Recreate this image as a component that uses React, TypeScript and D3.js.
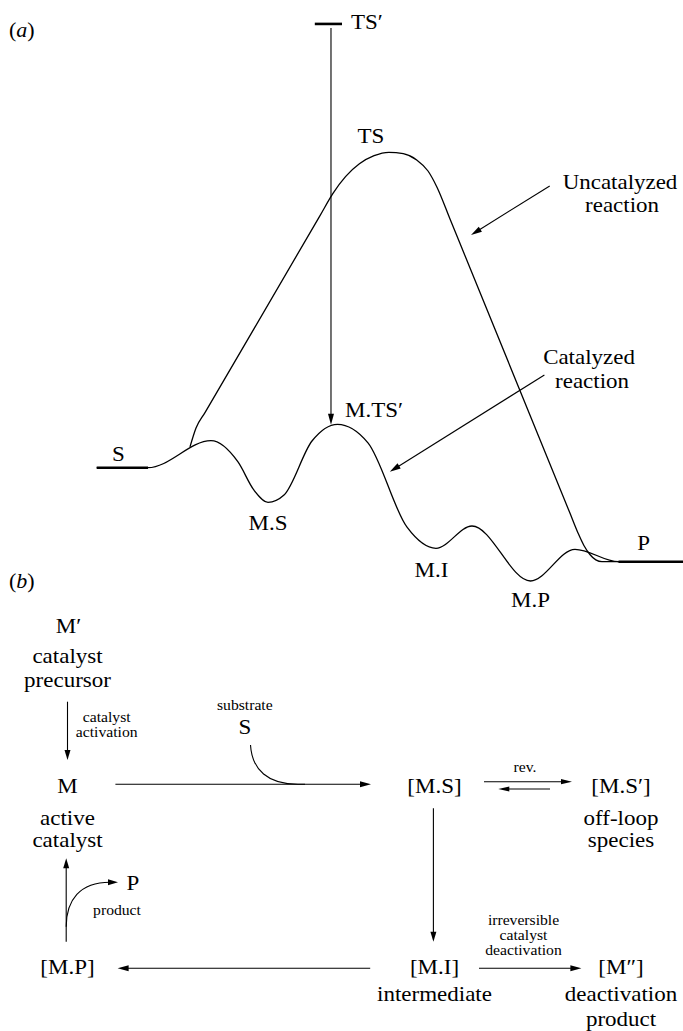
import React from "react";
import * as d3 from "d3";

const FONT = "'Liberation Serif','Times New Roman',Times,serif";

// ---------- Panel (a): reaction coordinate (0–100) vs relative energy (S = 0, TS = 100)
const catalyzedCoord = [0, 8.75, 19.49, 24.1, 26.83, 29.22, 31.95, 36.72, 41.07, 46.27, 52.93, 57.87, 64.01, 73.99, 81.58, 89.0, 100];
const catalyzedEnergy = [0, 0, 8.56, 1.81, -7.13, -10.97, -8.66, 8.47, 13.76, 7.89, -18.86, -25.55, -18.48, -35.92, -25.87, -29.8, -29.8];

const uncatalyzedCoord = [15.91, 16.94, 18.47, 38.09, 40.3, 42.44, 44.81, 47.31, 49.84, 52.29, 54.58, 56.51, 58.04, 60.26, 80.73, 82.09, 83.1, 84.12, 85.13, 86.18, 92.67];
const uncatalyzedEnergy = [6.59, 12.59, 17.47, 79.93, 87.0, 92.3, 96.35, 98.92, 100, 99.56, 97.59, 94.07, 88.94, 78.85, -14.46, -20.7, -24.67, -27.52, -29.23, -29.8, -29.8];

const levelNames = ["S", "P", "TS′"];
const levelStart = [0, 89.0, 37.2];
const levelEnd = [8.75, 100, 41.84];
const levelEnergy = [0, -29.8, 140.7];

const stateNames = ["TS", "M.TS′", "M.S", "M.I", "M.P"];
const stateCoord = [49.84, 41.07, 29.22, 57.87, 73.99];
const stateEnergy = [100, 13.76, -10.97, -25.55, -35.92];

const tsPrimeArrowCoord = 39.96;
const tsPrimeArrowFrom = 139.4;
const tsPrimeArrowTo = 13.6;

const annotationLines = [["Uncatalyzed", "reaction"], ["Catalyzed", "reaction"]];

// ---------- Panel (b): catalytic cycle
const speciesNames = ["M′", "M", "[M.S]", "[M.S′]", "[M.P]", "[M.I]", "[M″]"];
const speciesNotes = [
  ["catalyst", "precursor"],
  ["active", "catalyst"],
  [],
  ["off-loop", "species"],
  [],
  ["intermediate"],
  ["deactivation", "product"],
];
const stepNotes = [["catalyst", "activation"], ["substrate"], ["rev."], ["product"], ["irreversible", "catalyst", "deactivation"]];
const reagentNames = ["S", "P"];

// ---------- layout
const xS = d3.scaleLinear().domain([0, 100]).range([96.7, 683]);
const yS = d3.scaleLinear().domain([0, 100]).range([467.7, 152.3]);
const lineGen = d3
  .line<[number, number]>()
  .x((d) => xS(d[0]))
  .y((d) => yS(d[1]))
  .curve(d3.curveMonotoneX);

const SX = 1.15;

function T({ x, y, size = 20, anchor = "middle", sx = SX, children }: any) {
  return (
    <text
      transform={`translate(${x},${y}) scale(${sx},1)`}
      fontSize={size}
      textAnchor={anchor}
      fontFamily={FONT}
      fill="#000"
    >
      {children}
    </text>
  );
}

function Arrow({ x1, y1, x2, y2, len = 10, hw = 3, sw = 1.1 }: any) {
  const a = Math.atan2(y2 - y1, x2 - x1);
  const bx = x2 - len * Math.cos(a);
  const by = y2 - len * Math.sin(a);
  const px = -Math.sin(a) * hw;
  const py = Math.cos(a) * hw;
  return (
    <g>
      <line x1={x1} y1={y1} x2={bx + Math.cos(a) * 2} y2={by + Math.sin(a) * 2} stroke="#000" strokeWidth={sw} />
      <polygon points={`${x2},${y2} ${bx + px},${by + py} ${bx - px},${by - py}`} fill="#000" />
    </g>
  );
}

function Head({ x, y, angle, len = 10, hw = 3 }: any) {
  const bx = x - len * Math.cos(angle);
  const by = y - len * Math.sin(angle);
  const px = -Math.sin(angle) * hw;
  const py = Math.cos(angle) * hw;
  return <polygon points={`${x},${y} ${bx + px},${by + py} ${bx - px},${by - py}`} fill="#000" />;
}

export default function App() {
  const cat = catalyzedCoord.map((c, i) => [c, catalyzedEnergy[i]] as [number, number]);
  const unc = uncatalyzedCoord.map((c, i) => [c, uncatalyzedEnergy[i]] as [number, number]);

  const stateOffsets = [
    { dx: -18, dy: -9, anchor: "middle" },
    { dx: 7.5, dy: -7.6, anchor: "start" },
    { dx: 0, dy: 27.7, anchor: "middle" },
    { dx: -4.5, dy: 28.4, anchor: "middle" },
    { dx: 0, dy: 26.3, anchor: "middle" },
  ];

  // panel (b) positions
  const colX = [67.5, 434.5, 621];
  const rowY = [633, 793, 974];
  const noteFirst = [30, 32, 27];
  const noteStep = [24, 22, 24.5];
  const nodePos = [
    [0, 0],
    [0, 1],
    [1, 1],
    [2, 1],
    [0, 2],
    [1, 2],
    [2, 2],
  ];

  return (
    <svg
      width={683}
      height={1031}
      style={{ position: "absolute", left: 0, top: 0, background: "#fff" }}
    >
      {/* ---------------- Panel (a) ---------------- */}
      <T x={9} y={37} anchor="start" sx={1.1}>
        (<tspan fontStyle="italic">a</tspan>)
      </T>

      {levelNames.map((n, i) => (
        <line
          key={n}
          x1={xS(levelStart[i])}
          x2={xS(levelEnd[i])}
          y1={yS(levelEnergy[i])}
          y2={yS(levelEnergy[i])}
          stroke="#000"
          strokeWidth={2.6}
        />
      ))}
      <T x={(xS(levelStart[0]) + xS(levelEnd[0])) / 2 - 4} y={yS(levelEnergy[0]) - 7}>
        {levelNames[0]}
      </T>
      <T x={(xS(levelStart[1]) + xS(levelEnd[1])) / 2 - 7} y={yS(levelEnergy[1]) - 11.7}>
        {levelNames[1]}
      </T>
      <T x={xS(levelEnd[2]) + 9} y={yS(levelEnergy[2]) + 5.5} anchor="start">
        {levelNames[2]}
      </T>

      <path d={lineGen(unc) || ""} fill="none" stroke="#000" strokeWidth={1.3} />
      <path d={lineGen(cat) || ""} fill="none" stroke="#000" strokeWidth={1.3} />

      <Arrow
        x1={xS(tsPrimeArrowCoord)}
        y1={yS(tsPrimeArrowFrom)}
        x2={xS(tsPrimeArrowCoord)}
        y2={yS(tsPrimeArrowTo)}
        len={11}
        hw={3}
        sw={1.1}
      />

      {stateNames.map((n, i) => (
        <T
          key={n}
          x={xS(stateCoord[i]) + stateOffsets[i].dx}
          y={yS(stateEnergy[i]) + stateOffsets[i].dy}
          anchor={stateOffsets[i].anchor}
        >
          {n}
        </T>
      ))}

      <T x={620} y={189} size={20.5} sx={1.12}>
        {annotationLines[0][0]}
      </T>
      <T x={622} y={211.5} size={20.5} sx={1.12}>
        {annotationLines[0][1]}
      </T>
      <Arrow x1={549.7} y1={186} x2={471} y2={235} len={11} hw={3} />
      <T x={589} y={363.5} size={20.5} sx={1.12}>
        {annotationLines[1][0]}
      </T>
      <T x={592} y={387.5} size={20.5} sx={1.12}>
        {annotationLines[1][1]}
      </T>
      <Arrow x1={544.4} y1={375} x2={389.8} y2={471.7} len={11} hw={3} />

      {/* ---------------- Panel (b) ---------------- */}
      <T x={9} y={588} anchor="start" sx={1.1}>
        (<tspan fontStyle="italic">b</tspan>)
      </T>

      {speciesNames.map((n, i) => {
        const [c, r] = nodePos[i];
        const x = colX[c];
        const y = rowY[r];
        return (
          <g key={n}>
            <T x={x + (i === 0 ? 1 : 0)} y={y}>
              {n}
            </T>
            {speciesNotes[i].map((s, j) => (
              <T key={s + j} x={x} y={y + noteFirst[r] + j * noteStep[r]}>
                {s}
              </T>
            ))}
          </g>
        );
      })}

      {/* catalyst activation */}
      <Arrow x1={67.5} y1={701.7} x2={67.5} y2={760} />
      <T x={106.7} y={721.7} size={14.5} sx={1.08}>
        {stepNotes[0][0]}
      </T>
      <T x={106.7} y={736.7} size={14.5} sx={1.08}>
        {stepNotes[0][1]}
      </T>

      {/* M -> [M.S] with substrate */}
      <Arrow x1={115.4} y1={784.3} x2={371} y2={784.3} len={11} hw={3} />
      <T x={244.8} y={710} size={14.5} sx={1.08}>
        {stepNotes[1][0]}
      </T>
      <T x={244.8} y={734}>
        {reagentNames[0]}
      </T>
      <path
        d="M250.5,745 C252,770 268,784.3 298,784.3 L305,784.3"
        fill="none"
        stroke="#000"
        strokeWidth={1.1}
      />

      {/* rev. equilibrium */}
      <T x={525} y={772.3} size={14.5} sx={1.08}>
        {stepNotes[2][0]}
      </T>
      <line x1={484} y1={781.7} x2={566} y2={781.7} stroke="#000" strokeWidth={1.1} />
      <Head x={572} y={781.7} angle={0} len={11} hw={2.6} />
      <line x1={503} y1={789} x2={550} y2={789} stroke="#000" strokeWidth={1.1} />
      <Head x={498.3} y={789} angle={Math.PI} len={11} hw={2.6} />

      {/* [M.S] -> [M.I] */}
      <Arrow x1={433.4} y1={808.3} x2={433.4} y2={941.7} />

      {/* [M.I] -> [M.P] */}
      <Arrow x1={370.2} y1={968.3} x2={117.6} y2={968.3} len={11} hw={3} />

      {/* [M.I] -> [M''] */}
      <Arrow x1={479} y1={968.3} x2={581.4} y2={968.3} len={11} hw={3} />
      {stepNotes[4].map((s, j) => (
        <T key={s} x={523.5} y={925 + j * 15} size={14.5} sx={1.08}>
          {s}
        </T>
      ))}

      {/* [M.P] -> M with product P */}
      <Arrow x1={66.2} y1={941.7} x2={66.2} y2={858.3} />
      <path
        d="M66.2,926.7 C66.2,900 80,882.3 110,882.3"
        fill="none"
        stroke="#000"
        strokeWidth={1.1}
      />
      <Head x={118} y={882.3} angle={0} len={10} hw={3} />
      <T x={133} y={890}>
        {reagentNames[1]}
      </T>
      <T x={117} y={915} size={14.5} sx={1.08}>
        {stepNotes[3][0]}
      </T>
    </svg>
  );
}
